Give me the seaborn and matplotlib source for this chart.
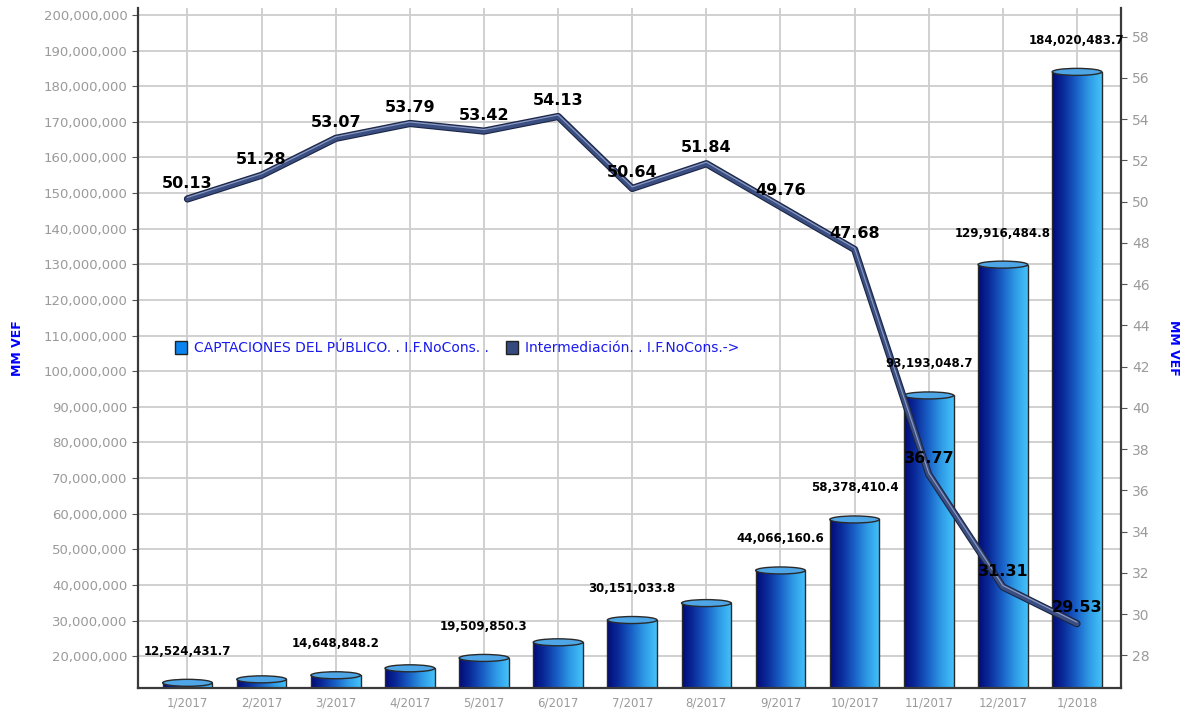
import numpy as np
import pandas as pd
import seaborn as sns
import matplotlib.pyplot as plt
import matplotlib.patheffects as pe
from matplotlib.colors import LinearSegmentedColormap
from matplotlib.patches import Patch, Ellipse
from matplotlib.ticker import FuncFormatter, MultipleLocator

# data
months = ["1/2017", "2/2017", "3/2017", "4/2017", "5/2017", "6/2017", "7/2017",
          "8/2017", "9/2017", "10/2017", "11/2017", "12/2017", "1/2018"]
captaciones = [12524431.7, 13500000.0, 14648848.2, 16600000.0, 19509850.3, 23900000.0,
               30151033.8, 34900000.0, 44066160.6, 58378410.4, 93193048.7,
               129916484.8, 184020483.7]
intermediacion = [50.13, 51.28, 53.07, 53.79, 53.42, 54.13, 50.64, 51.84, 49.76,
                  47.68, 36.77, 31.31, 29.53]
bar_labelled = [True, False, True, False, True, False, True, False, True, True,
                True, True, True]

df = pd.DataFrame({"mes": months, "captaciones": captaciones,
                   "intermediacion": intermediacion})

sns.set_style("white")
plt.rcParams['font.family'] = ['DejaVu Sans']

fig = plt.figure(figsize=(11.88, 7.11), dpi=100)
ax = fig.add_axes([0.116, 0.032, 0.828, 0.957])

tick_grey = '#9a9a9a'
grid_grey = '#cdcdcd'

# bars
sns.barplot(data=df, x="mes", y="captaciones", ax=ax, width=0.67,
            color='#1a5fc8', edgecolor='#2a2a2a', linewidth=1.0, zorder=2)

ylo, yhi = 11_000_000, 202_000_000
cmap = LinearSegmentedColormap.from_list(
    "cyl", ["#020a78", "#0b2f9e", "#1a63c8", "#2f9be6", "#44c2fa"])
grad = np.linspace(0, 1, 256).reshape(1, -1)
cap_h = (yhi - ylo) * 7 / 680
for p in ax.patches:
    x0, w = p.get_x(), p.get_width()
    top = p.get_y() + p.get_height()
    p.set_facecolor('none')
    ax.imshow(grad, extent=[x0, x0 + w, ylo, top], aspect='auto', cmap=cmap,
              zorder=1.9, interpolation='bicubic')
    ax.add_patch(Ellipse((x0 + w / 2, top), w, cap_h, facecolor='#4ea6e6',
                         edgecolor='#2a2a2a', linewidth=1.0, zorder=2.5))

ax.set_xlim(-0.67, 12.6)
ax.set_ylim(ylo, yhi)
ax.yaxis.set_major_locator(MultipleLocator(10_000_000))
ax.yaxis.set_major_formatter(FuncFormatter(lambda v, _: f"{v:,.0f}"))
ax.set_yticks(np.arange(20_000_000, 200_000_001, 10_000_000))
ax.grid(True, color=grid_grey, linewidth=1.3)
ax.set_axisbelow(True)
ax.set_xlabel("")
ax.set_ylabel("MM VEF", color='blue', fontsize=9, fontweight='bold', labelpad=14)
ax.tick_params(axis='y', colors='#555555', labelcolor=tick_grey, labelsize=9.5,
               length=4, direction='out', left=True)
ax.tick_params(axis='x', labelcolor=tick_grey, labelsize=8.5, length=0, pad=6)
for side in ["left", "bottom"]:
    ax.spines[side].set_color('#3a3a3a')
    ax.spines[side].set_linewidth(1.6)
ax.spines["top"].set_visible(False)
ax.spines["right"].set_visible(False)

# line on the right axis
ax2 = ax.twinx()
sns.lineplot(x=df.index, y=df["intermediacion"], ax=ax2, color='#3a4e82',
             linewidth=3.6, sort=False, zorder=3,
             path_effects=[pe.Stroke(linewidth=5.2, foreground='#1b2645'),
                           pe.Normal(),
                           pe.Stroke(offset=(0, 1.1), linewidth=0.8,
                                     foreground='#8e9cc2')])
ax2.set_ylim(26.4, 59.4)
ax2.set_yticks(np.arange(28, 59, 2))
ax2.set_ylabel("MM VEF", color='blue', fontsize=9, fontweight='bold',
               rotation=-90, labelpad=22)
ax2.tick_params(axis='y', colors='#555555', labelcolor=tick_grey, labelsize=10,
                length=4, direction='out')
ax2.grid(False)
ax2.spines["right"].set_color('#3a3a3a')
ax2.spines["right"].set_linewidth(1.6)
for side in ["top", "left", "bottom"]:
    ax2.spines[side].set_visible(False)

for i, v in enumerate(intermediacion):
    ax2.annotate(f"{v:.2f}", (i, v), xytext=(0, 6), textcoords='offset points',
                 ha='center', va='bottom', fontsize=11.5, fontweight='bold',
                 color='black', zorder=5)

for i, (v, show) in enumerate(zip(captaciones, bar_labelled)):
    if show:
        ax2.annotate(f"{v:,.1f}", xy=(i, v), xycoords=ax.transData,
                     xytext=(0, 18), textcoords='offset points', ha='center',
                     va='bottom', fontsize=8.5, fontweight='bold', color='black',
                     zorder=5)

handles = [Patch(facecolor='#0a84f0', edgecolor='#222222', linewidth=1.0),
           Patch(facecolor='#354b80', edgecolor='#222222', linewidth=1.0)]
labels = ["CAPTACIONES DEL PÚBLICO. . I.F.NoCons. .",
          "Intermediación. . I.F.NoCons.->"]
leg = ax2.legend(handles, labels, ncol=2, frameon=False, loc='center left',
                 bbox_to_anchor=(0.025, 0.5), fontsize=10, handlelength=0.9,
                 handleheight=1.1, handletextpad=0.5, columnspacing=1.2)
for t in leg.get_texts():
    t.set_color('#1a1aee')

fig.savefig("out.png", dpi=100)
